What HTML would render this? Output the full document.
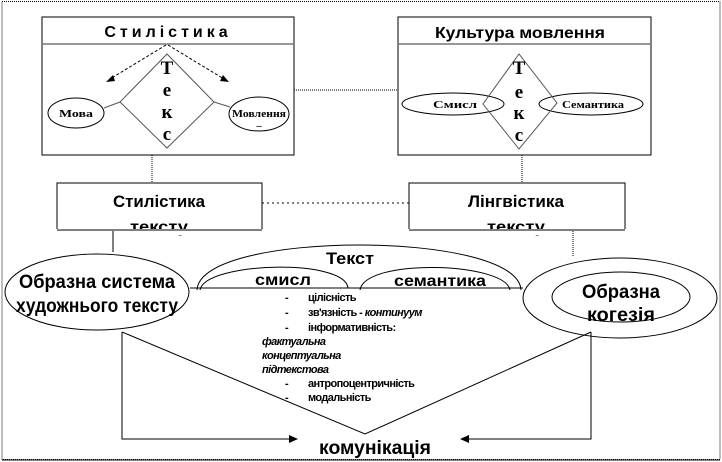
<!DOCTYPE html>
<html><head><meta charset="utf-8"><style>body{margin:0;background:#fff}svg{display:block}text{font-family:"Liberation Sans",sans-serif}.s{font-family:"Liberation Serif",serif;font-weight:bold}</style></head><body>
<svg width="722" height="462" viewBox="0 0 722 462" xmlns="http://www.w3.org/2000/svg">
<rect x="2" y="1.5" width="718" height="458" fill="none" stroke="#000" stroke-dasharray="1,1"/>
<line x1="2" y1="460" x2="720" y2="460" stroke="#000"/>
<!-- Stilistika box -->
<rect x="42" y="17" width="252" height="138" fill="#fff" stroke="#000"/>
<line x1="42" y1="44" x2="294" y2="44" stroke="#777" stroke-width="1.5"/>
<text x="168" y="37" text-anchor="middle" font-size="16" font-weight="bold" letter-spacing="4">Стилістика</text>
<polygon points="167,54 120,102 167,148 214,102" fill="none" stroke="#555"/>
<g font-size="19" text-anchor="middle"><text class="s" x="167" y="74">Т</text><text class="s" x="167" y="96">е</text><text class="s" x="167" y="118">к</text><text class="s" x="167" y="140">с</text></g>
<line x1="166" y1="45" x2="110" y2="79" stroke="#000" stroke-dasharray="3,2"/>
<polygon points="106,82 113,75 115,81" fill="#000"/>
<line x1="168" y1="45" x2="224" y2="79" stroke="#000" stroke-dasharray="3,2"/>
<polygon points="229,82 220,81 223,75" fill="#000"/>
<ellipse cx="76" cy="113" rx="28" ry="15" fill="#fff" stroke="#000"/>
<text class="s" x="76" y="117" text-anchor="middle" font-size="11" textLength="34" lengthAdjust="spacingAndGlyphs">Мова</text>
<ellipse cx="259" cy="114" rx="30" ry="17" fill="#fff" stroke="#000"/>
<text class="s" x="259" y="117" text-anchor="middle" font-size="11" textLength="54" lengthAdjust="spacingAndGlyphs">Мовлення</text>
<text x="259" y="129" text-anchor="middle" font-size="10">–</text>
<line x1="104" y1="108" x2="120" y2="102" stroke="#555"/>
<line x1="214" y1="102" x2="230" y2="107" stroke="#555"/>
<!-- Kultura box -->
<rect x="398" y="17" width="253" height="138" fill="#fff" stroke="#000"/>
<line x1="398" y1="44" x2="651" y2="44" stroke="#777" stroke-width="1.5"/>
<text x="520" y="38" text-anchor="middle" font-size="16" font-weight="bold" textLength="170" lengthAdjust="spacingAndGlyphs">Культура мовлення</text>
<ellipse cx="453" cy="104" rx="51" ry="11" fill="none" stroke="#000"/>
<text class="s" x="455" y="108" text-anchor="middle" font-size="11" textLength="44" lengthAdjust="spacingAndGlyphs">Смисл</text>
<ellipse cx="591" cy="104" rx="52" ry="11" fill="none" stroke="#000"/>
<text class="s" x="593" y="108" text-anchor="middle" font-size="11" textLength="62" lengthAdjust="spacingAndGlyphs">Семантика</text>
<polygon points="519,54 483,104 519,149 557,103" fill="none" stroke="#555"/>
<g font-size="19" text-anchor="middle"><text class="s" x="519" y="74">Т</text><text class="s" x="519" y="98">е</text><text class="s" x="519" y="119">к</text><text class="s" x="519" y="141">с</text></g>
<line x1="294" y1="90" x2="398" y2="90" stroke="#000" stroke-dasharray="1,1"/>
<line x1="152" y1="155" x2="152" y2="183" stroke="#000" stroke-dasharray="1,1"/>
<line x1="522" y1="155" x2="522" y2="183" stroke="#000" stroke-dasharray="1,1"/>
<!-- mid boxes -->
<rect x="57" y="183" width="205" height="47" fill="#fff" stroke="#000"/>
<text x="159" y="207" text-anchor="middle" font-size="17" font-weight="bold" textLength="92" lengthAdjust="spacingAndGlyphs">Стилістика</text>
<text x="159" y="232" text-anchor="middle" font-size="16" font-weight="bold" textLength="58" lengthAdjust="spacingAndGlyphs">тексту</text>
<rect x="409" y="183" width="216" height="47" fill="#fff" stroke="#000"/>
<text x="516" y="207" text-anchor="middle" font-size="17" font-weight="bold" textLength="96" lengthAdjust="spacingAndGlyphs">Лінгвістика</text>
<text x="516" y="232" text-anchor="middle" font-size="16" font-weight="bold" textLength="58" lengthAdjust="spacingAndGlyphs">тексту</text>
<rect x="55" y="229" width="210" height="6" fill="#fff"/><line x1="57" y1="230" x2="262" y2="230" stroke="#000"/>
<rect x="407" y="229" width="220" height="6" fill="#fff"/><line x1="409" y1="230" x2="625" y2="230" stroke="#000"/>
<line x1="262" y1="203" x2="409" y2="203" stroke="#000" stroke-dasharray="2,3"/>
<line x1="113" y1="231" x2="113" y2="252" stroke="#000"/>
<line x1="573" y1="231" x2="573" y2="256" stroke="#000" stroke-dasharray="1,1"/>
<!-- bottom -->
<ellipse cx="97" cy="292" rx="92" ry="38" fill="#fff" stroke="#000"/>
<text x="97" y="288" text-anchor="middle" font-size="19" font-weight="bold" textLength="156" lengthAdjust="spacingAndGlyphs">Образна система</text>
<text x="97" y="312" text-anchor="middle" font-size="19" font-weight="bold" textLength="162" lengthAdjust="spacingAndGlyphs">художнього тексту</text>
<ellipse cx="620" cy="298" rx="97" ry="40" fill="#fff" stroke="#000"/>
<ellipse cx="621" cy="297" rx="69" ry="25" fill="none" stroke="#000"/>
<text x="621" y="298" text-anchor="middle" font-size="19" font-weight="bold" textLength="78" lengthAdjust="spacingAndGlyphs">Образна</text>
<text x="621" y="321" text-anchor="middle" font-size="19" font-weight="bold" textLength="68" lengthAdjust="spacingAndGlyphs">когезія</text>
<path d="M197,290 C200,230 518,230 521,290" fill="none" stroke="#000"/>
<path d="M200,290 C205,262 345,258 348,288" fill="none" stroke="#000"/>
<path d="M360,290 C365,258 505,262 510,290" fill="none" stroke="#000"/>
<line x1="190" y1="288" x2="523" y2="288" stroke="#000"/>
<text x="350" y="264" text-anchor="middle" font-size="17" font-weight="bold" textLength="48" lengthAdjust="spacingAndGlyphs">Текст</text>
<text x="283" y="285" text-anchor="middle" font-size="16" font-weight="bold" textLength="56" lengthAdjust="spacingAndGlyphs">смисл</text>
<text x="440" y="286" text-anchor="middle" font-size="16" font-weight="bold" textLength="92" lengthAdjust="spacingAndGlyphs">семантика</text>
<g font-size="11" font-weight="bold" letter-spacing="-0.6">
<text x="285" y="301">-</text><text x="308" y="301">цілісність</text>
<text x="285" y="316">-</text><text x="308" y="316">зв'язність - <tspan font-style="italic">континуум</tspan></text>
<text x="285" y="331">-</text><text x="308" y="331">інформативність:</text>
<text x="262" y="345" font-style="italic">фактуальна</text>
<text x="262" y="359" font-style="italic">концептуальна</text>
<text x="262" y="373" font-style="italic">підтекстова</text>
<text x="285" y="387">-</text><text x="308" y="387">антропоцентричність</text>
<text x="285" y="401">-</text><text x="308" y="401">модальність</text>
</g>
<polyline points="122,332 365,434 591,332" fill="none" stroke="#000"/>
<polyline points="122,332 122,439 292,439" fill="none" stroke="#000"/>
<polygon points="298,439 289,435 289,443" fill="#000"/>
<polyline points="591,332 591,439 466,439" fill="none" stroke="#000"/>
<polygon points="460,439 469,435 469,443" fill="#000"/>
<text x="375" y="454" text-anchor="middle" font-size="19" font-weight="bold" textLength="112" lengthAdjust="spacingAndGlyphs">комунікація</text>
</svg>
</body></html>
